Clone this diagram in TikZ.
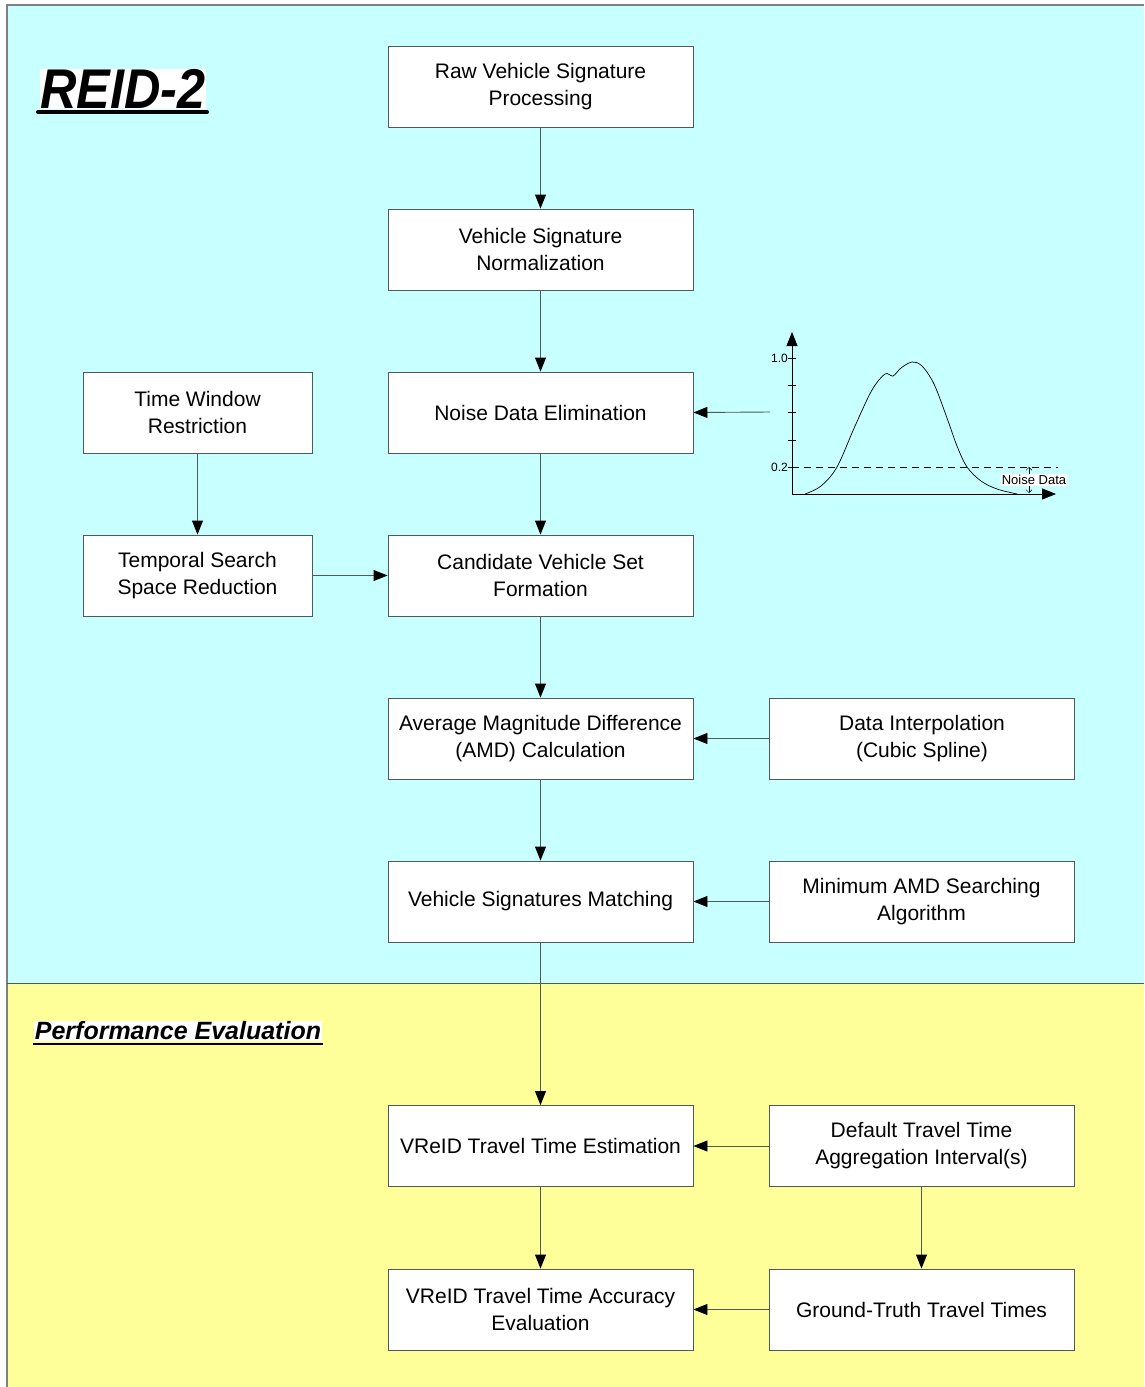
\documentclass[tikz,border=0pt]{standalone}
\usepackage{fontspec}
\setmainfont{Liberation Sans}
\usetikzlibrary{arrows.meta}
\definecolor{bgcyan}{RGB}{200,255,255}
\definecolor{bgyellow}{RGB}{255,255,153}
\definecolor{edge}{RGB}{80,90,90}
\begin{document}
\begin{tikzpicture}[x=1pt,y=-1pt,
  box/.style={draw=edge,fill=white,line width=0.9pt,rectangle,inner sep=0pt,
    minimum height=81pt,align=center,font=\fontsize{21}{27}\selectfont},
  mainbox/.style={box,minimum width=305pt},
  leftbox/.style={box,minimum width=229pt},
  conn/.style={draw=edge,line width=0.9pt,-{Triangle[length=14pt,width=11pt,fill=black,color=black]}},
  axis/.style={draw=black,line width=0.9pt,-{Triangle[length=14pt,width=11pt]}},
  ticklbl/.style={font=\fontsize{12}{12}\selectfont,inner sep=0pt,anchor=east}
]
\useasboundingbox (0,0) rectangle (1144,1387);
% backgrounds
\fill[bgcyan] (7,5) rectangle (1144,983);
\fill[bgyellow] (7,983) rectangle (1144,1387);
\draw[gray,line width=1.2pt] (7,1387) -- (7,5) -- (1144,5);
\draw[edge,line width=0.9pt] (7,983) -- (1144,983);

% titles
\node[fill=white,inner sep=0pt,font=\fontsize{56}{56}\selectfont\bfseries\itshape,anchor=center] (title) at (123,89) {\scalebox{0.9}[1]{REID-2}};
\draw[black,line width=4pt,line cap=round] (38,112) -- (207,112);
\node[fill=white,inner sep=1pt,font=\fontsize{25}{25}\selectfont\bfseries\itshape,anchor=center] (perf) at (178,1031) {Performance Evaluation};
\draw[black,line width=2pt] (33,1044) -- (323,1044);

% main column
\node[mainbox] (raw)   at (540.5,86.5)  {Raw Vehicle Signature\\Processing};
\node[mainbox] (norm)  at (540.5,249.5) {Vehicle Signature\\Normalization};
\node[mainbox] (noise) at (540.5,412.5) {Noise Data Elimination};
\node[mainbox] (cand)  at (540.5,575.5) {Candidate Vehicle Set\\Formation};
\node[mainbox] (amd)   at (540.5,738.5) {Average Magnitude Difference\\(AMD) Calculation};
\node[mainbox] (match) at (540.5,901.5) {Vehicle Signatures Matching};
\node[mainbox] (est)   at (540.5,1146)  {VReID Travel Time Estimation};
\node[mainbox] (acc)   at (540.5,1309.5){VReID Travel Time Accuracy\\Evaluation};

% left column
\node[leftbox] (tw)   at (197.5,412.5) {Time Window\\Restriction};
\node[leftbox] (temp) at (197.5,575.5) {Temporal Search\\Space Reduction};

% right column
\node[mainbox] (interp) at (922,738.5)  {Data Interpolation\\(Cubic Spline)};
\node[mainbox] (minamd) at (921.5,901.5){Minimum AMD Searching\\Algorithm};
\node[mainbox] (deflt)  at (921.5,1146) {Default Travel Time\\Aggregation Interval(s)};
\node[mainbox] (ground) at (921.5,1309.5){Ground-Truth Travel Times};

% connectors
\draw[conn] (raw) -- (norm);
\draw[conn] (norm) -- (noise);
\draw[conn] (noise) -- (cand);
\draw[conn] (cand) -- (amd);
\draw[conn] (amd) -- (match);
\draw[conn] (match) -- (est);
\draw[conn] (est) -- (acc);
\draw[conn] (tw) -- (temp);
\draw[conn] (temp) -- (cand);
\draw[conn] (interp) -- (amd);
\draw[conn] (minamd) -- (match);
\draw[conn] (deflt) -- (est);
\draw[conn] (deflt) -- (ground);
\draw[conn] (ground) -- (acc);

% graph
\coordinate (gsrc) at (770,412);
\draw[conn] (gsrc) -- (noise.east);
\coordinate (origin) at (792,494);
\draw[axis] (origin) -- (792,332);
\draw[axis] (origin) -- (1056,494);
\foreach \yy in {358,385,412,440,467} \draw[black,line width=0.6pt] (788,\yy) -- (796,\yy);
\node[ticklbl] (l10) at (788,358) {1.0};
\node[ticklbl] (l02) at (788,467) {0.2};
\draw[black,line width=0.7pt,dash pattern=on 7pt off 5pt] (792,467) -- (1058,467);
\draw[black,line width=0.7pt] plot[smooth,tension=0.55] coordinates {(805,494) (821,486) (837,467) (855,426) (872,390) (885,374) (893,376) (901,368) (912,362) (922,366) (934,384) (947,418) (957,446) (967,467) (981,481) (997,489) (1017,494)};
\draw[black,line width=0.5pt,{Straight Barb[length=3pt,width=6pt]}-{Straight Barb[length=3pt,width=6pt]}] (1029,467) -- (1029,493);
\node[fill=white,inner sep=1pt,font=\fontsize{13}{13}\selectfont] (nd) at (1034,480) {Noise Data};
\end{tikzpicture}
\end{document}
